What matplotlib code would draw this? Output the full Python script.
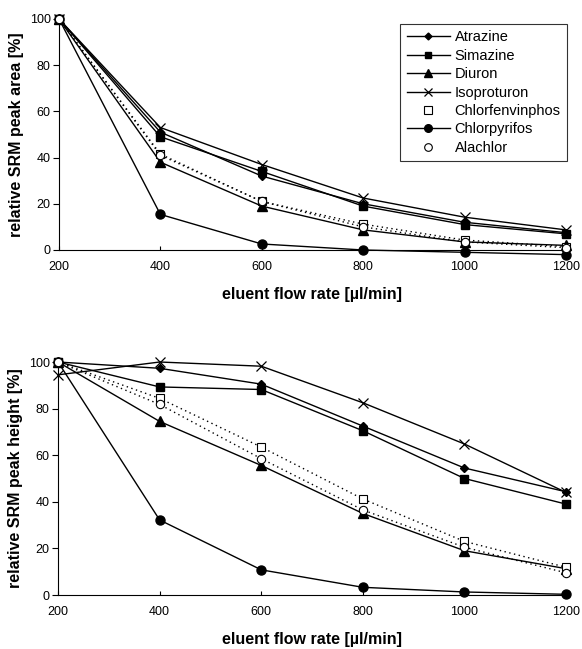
import numpy as np
import matplotlib.pyplot as plt

plt.rcParams['font.family'] = ['Liberation Sans', 'DejaVu Sans']

flow = [200, 400, 600, 800, 1000, 1200]
names = ["Atrazine", "Simazine", "Diuron", "Isoproturon",
         "Chlorfenvinphos", "Chlorpyrifos", "Alachlor"]

# relative peak area [%]
area_atrazine = [100, 51, 32, 20, 12, 7.5]
area_simazine = [100, 49, 34, 19, 11, 7]
area_diuron = [100, 38, 19, 8.7, 3.5, 2]
area_isoproturon = [100, 53, 37, 22.5, 14.2, 8.7]
area_chlorfenvinphos = [100, 41.5, 21, 11.2, 4.3, 1.5]
area_chlorpyrifos = [100, 15.4, 2.6, 0, -1, -2]
area_alachlor = [100, 41, 21, 10, 3.5, 1]

# relative peak height [%]
height_atrazine = [100, 97.3, 90.5, 72.5, 54.5, 44.3]
height_simazine = [100, 89.3, 88.2, 70.5, 50, 39]
height_diuron = [100, 74.5, 55.6, 35, 19, 11.3]
height_isoproturon = [94.5, 100, 98.2, 82.5, 64.8, 44]
height_chlorfenvinphos = [100, 84.4, 63.5, 41.2, 23, 11.9]
height_chlorpyrifos = [100, 32.2, 10.8, 3.3, 1.3, 0.3]
height_alachlor = [100, 81.8, 58.5, 36.5, 20.5, 9.5]

styles = {
    "Atrazine": dict(marker="D", color="k", ls="-", mfc="k", ms=4.5),
    "Simazine": dict(marker="s", color="k", ls="-", mfc="k", ms=6),
    "Diuron": dict(marker="^", color="k", ls="-", mfc="k", ms=6.5),
    "Isoproturon": dict(marker="x", color="k", ls="-", ms=7, mew=0.9),
    "Chlorfenvinphos": dict(marker="s", color="k", ls=(0, (1, 2.5)), mfc="white", ms=6, mew=0.8),
    "Chlorpyrifos": dict(marker="o", color="k", ls="-", mfc="k", ms=6.5),
    "Alachlor": dict(marker="o", color="k", ls=(0, (1, 2.5)), mfc="white", ms=6, mew=0.8),
}

area = [area_atrazine, area_simazine, area_diuron, area_isoproturon,
        area_chlorfenvinphos, area_chlorpyrifos, area_alachlor]
height = [height_atrazine, height_simazine, height_diuron, height_isoproturon,
          height_chlorfenvinphos, height_chlorpyrifos, height_alachlor]

fig = plt.figure(figsize=(5.82, 6.49), dpi=100)
ax1 = fig.add_axes([0.1014, 0.6148, 0.871, 0.356])
ax2 = fig.add_axes([0.0997, 0.0832, 0.873, 0.359])


def draw(ax, data, ylabel):
    handles = []
    for name, vals in zip(names, data):
        h, = ax.plot(flow, vals, lw=1, clip_on=False, zorder=3, label=name, **styles[name])
        handles.append(h)
    ax.set_xlim(200, 1200)
    ax.set_ylim(0, 100)
    ax.set_xticks(flow)
    ax.set_yticks([0, 20, 40, 60, 80, 100])
    ax.spines['top'].set_visible(False)
    ax.spines['right'].set_visible(False)
    ax.tick_params(axis='x', direction='in', length=3, labelsize=9, pad=8)
    ax.tick_params(axis='y', direction='out', length=4, labelsize=9, pad=2)
    ax.set_xlabel("eluent flow rate [µl/min]", fontsize=11.5, fontweight='bold', labelpad=10)
    ax.set_ylabel(ylabel, fontsize=11.5, fontweight='bold', labelpad=4)
    return handles


handles = draw(ax1, area, "relative SRM peak area [%]")
draw(ax2, height, "relative SRM peak height [%]")

# legend: open-marker series shown as marker only
leg_handles = []
for h, name in zip(handles, names):
    s = dict(styles[name])
    if name in ("Chlorfenvinphos", "Alachlor"):
        s["ls"] = "none"
        s["ms"] = 5.5
        leg_handles.append(plt.Line2D([], [], **s))
    else:
        s["ms"] = s["ms"] - 1
        leg_handles.append(plt.Line2D([], [], lw=1, **s))
leg = ax1.legend(leg_handles, names, loc='upper right', bbox_to_anchor=(1.017, 1.01),
                 fontsize=10.5, frameon=True, fancybox=False, edgecolor='k',
                 handlelength=3, handletextpad=0.3, borderpad=0.45, labelspacing=0.3)
leg.get_frame().set_linewidth(0.8)

fig.savefig("out.png", dpi=100)
